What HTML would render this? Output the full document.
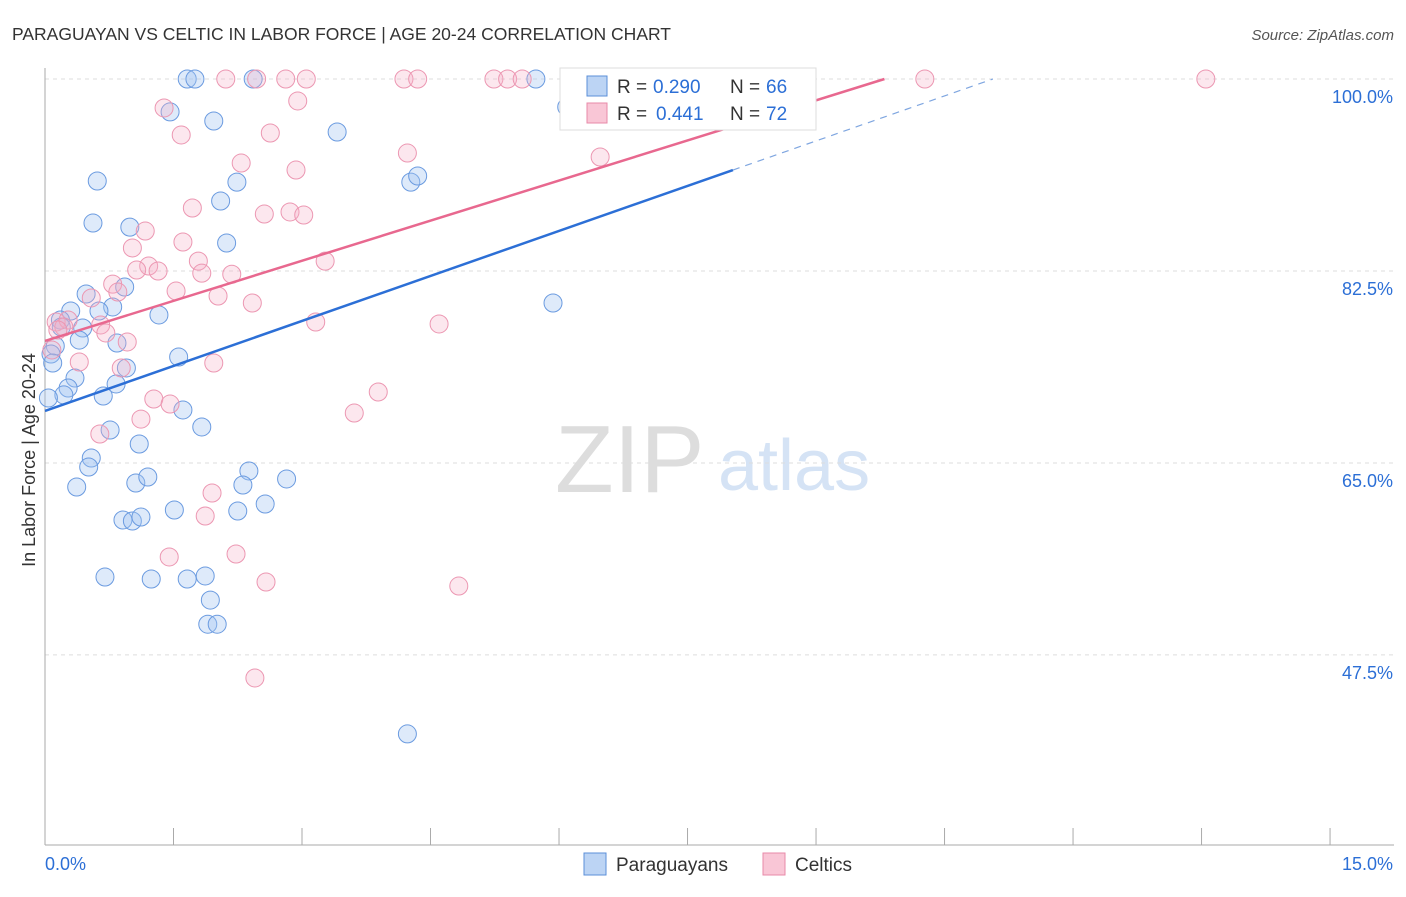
<!DOCTYPE html>
<html><head><meta charset="utf-8"><style>
body{margin:0;background:#fff;font-family:"Liberation Sans",sans-serif;}
svg text{font-family:"Liberation Sans",sans-serif;}
</style></head><body>
<svg id="chart" width="1406" height="892">
<text x="12" y="40" font-size="17.5" fill="#333">PARAGUAYAN VS CELTIC IN LABOR FORCE | AGE 20-24 CORRELATION CHART</text>
<text x="1394" y="40" font-size="15" fill="#555" font-style="italic" text-anchor="end">Source: ZipAtlas.com</text>
<text x="35" y="460" font-size="18" fill="#333" transform="rotate(-90 35 460)" text-anchor="middle">In Labor Force | Age 20-24</text>
<text x="555" y="492" font-size="96" fill="#ddd" font-family="Liberation Serif">ZIP</text>
<text x="718" y="490" font-size="72" fill="#d5e3f5">atlas</text>
<g id="grid"></g><g id="marks"></g><g id="lines"></g>
<g>
<rect x="560" y="68" width="256" height="62" fill="#fff" stroke="#ddd"/>
<rect x="587" y="76" width="20" height="20" fill="#bcd4f4" stroke="#5b8fd8"/>
<rect x="587" y="103" width="20" height="20" fill="#f9c6d6" stroke="#e88aa8"/>
<text x="617" y="93" font-size="19" fill="#333">R =</text>
<text x="653" y="93" font-size="19" fill="#2c6fd6">0.290</text>
<text x="730" y="93" font-size="19" fill="#333">N =</text>
<text x="766" y="93" font-size="19" fill="#2c6fd6">66</text>
<text x="617" y="120" font-size="19" fill="#333">R =</text>
<text x="656" y="120" font-size="19" fill="#2c6fd6">0.441</text>
<text x="730" y="120" font-size="19" fill="#333">N =</text>
<text x="766" y="120" font-size="19" fill="#2c6fd6">72</text>
</g>
<g>
<rect x="584" y="853" width="22" height="22" fill="#bcd4f4" stroke="#5b8fd8"/>
<text x="616" y="871" font-size="19" fill="#333">Paraguayans</text>
<rect x="763" y="853" width="22" height="22" fill="#f9c6d6" stroke="#e88aa8"/>
<text x="795" y="871" font-size="19" fill="#333">Celtics</text>
</g>
</svg>
<script>
const blueX=[1.66,1.75,2.43,5.73,6.90,6.09,1.46,1.97,3.41,0.61,2.24,4.27,4.35,2.05,0.56,0.99,2.12,0.93,0.48,5.93,0.30,0.79,0.63,1.33,0.18,0.19,0.44,0.40,0.84,0.12,0.07,0.09,1.56,0.95,0.35,0.83,0.27,0.22,0.68,0.04,1.61,0.76,1.83,1.10,0.54,0.51,0.37,1.06,1.20,2.38,2.31,2.82,2.57,1.51,2.25,0.91,1.02,1.12,0.70,1.24,1.66,1.87,1.93,1.90,2.01,4.23];
const blueY=[100,100,100,100,100,97.45,97.0,96.17,95.17,90.7,90.6,90.6,91.16,88.88,86.87,86.5,85.05,81.04,80.4,79.58,78.85,79.22,78.85,78.49,78.03,77.39,77.3,76.2,75.93,75.66,74.93,74.11,74.66,73.66,72.74,72.2,71.83,71.2,71.1,70.92,69.83,68.0,68.28,66.73,65.45,64.63,62.81,63.17,63.72,64.27,62.99,63.54,61.26,60.71,60.62,59.8,59.71,60.07,54.6,54.42,54.42,54.7,52.5,50.3,50.3,40.3];
const pinkX=[1.39,1.59,2.63,2.95,2.47,2.11,2.81,3.05,4.19,4.35,5.24,5.40,5.57,10.27,13.55,4.23,6.48,2.29,2.93,1.72,2.56,2.86,3.02,1.17,1.02,1.61,1.79,1.21,1.07,1.32,1.83,2.18,3.27,0.79,1.53,0.85,0.54,2.02,2.42,0.13,0.27,0.22,0.15,0.65,0.71,0.96,0.40,3.16,4.60,0.08,1.97,0.89,3.89,1.27,1.46,3.61,1.12,0.64,1.95,1.87,1.45,2.23,2.58,4.83,2.45];
const pinkY=[97.36,94.9,95.08,98.0,100,100,100,100,100,100,100,100,100,100,100,93.25,92.89,92.34,91.7,88.24,87.69,87.88,87.6,86.14,84.6,85.14,83.4,82.95,82.59,82.5,82.3,82.2,83.4,81.3,80.67,80.58,80.04,80.22,79.58,77.85,78.03,77.39,77.12,77.58,76.85,76.03,74.2,77.85,77.67,75.3,74.11,73.66,71.47,70.83,70.37,69.55,69.0,67.64,62.26,60.16,56.43,56.7,54.15,53.78,45.4];
const blueTrend=[69.74,2.735];
const pinkTrend=[76.12,2.437];
const yTicks=[100,82.5,65,47.5];
const xTickVals=[0,1.5,3,4.5,6,7.5,9,10.5,12,13.5,15];
const NS='http://www.w3.org/2000/svg';
const X=v=>45+v*85.67, Y=v=>79+(100-v)*10.97;
function mk(tag,attrs,parent){const e=document.createElementNS(NS,tag);for(const k in attrs)e.setAttribute(k,attrs[k]);parent.appendChild(e);return e;}
const grid=document.getElementById('grid'),marks=document.getElementById('marks'),lines=document.getElementById('lines');
yTicks.forEach(v=>{
 const l=mk('line',{x1:45,x2:1394,y1:Y(v),y2:Y(v),stroke:'#ddd','stroke-dasharray':'4,4'},grid);
 
 
 const t=mk('text',{x:1393,y:Y(v)+24,'font-size':18,fill:'#2c6fd6','text-anchor':'end'},grid);
 t.textContent=v.toFixed(1)+'%';
 
 
});
const ax=mk('line',{x1:45,x2:45,y1:68,y2:845,stroke:'#aaa'},grid);


const bx=mk('line',{x1:45,x2:1394,y1:845,y2:845,stroke:'#aaa'},grid);


xTickVals.forEach(v=>{
 const t=mk('line',{x1:X(v),x2:X(v),y1:828,y2:845,stroke:'#aaa'},grid);
 
 
});
[[0,'start','0.0%'],[15,'end','15.0%']].forEach(([v,a,s])=>{
 const t=mk('text',{x:X(v)+(a==='end'?63:0),y:870,'font-size':18,fill:'#2c6fd6','text-anchor':a},grid);
 t.textContent=s;
 
 
});
blueX.forEach((x,i)=>{
 const c=mk('circle',{cx:X(x),cy:Y(blueY[i]),r:9,fill:'rgba(160,195,240,0.35)',stroke:'#6b9be0','stroke-width':1},marks);
 
 
});
pinkX.forEach((x,i)=>{
 const c=mk('circle',{cx:X(x),cy:Y(pinkY[i]),r:9,fill:'rgba(245,175,200,0.3)',stroke:'#ec97b2','stroke-width':1},marks);
 
 
});
const bEnd=8.03, bFull=(100-blueTrend[0])/blueTrend[1];
const bl=mk('line',{x1:X(0),y1:Y(blueTrend[0]),x2:X(bEnd),y2:Y(blueTrend[0]+blueTrend[1]*bEnd),stroke:'#2c6fd6','stroke-width':2.5},lines);


const bd=mk('line',{x1:X(bEnd),y1:Y(blueTrend[0]+blueTrend[1]*bEnd),x2:X(bFull),y2:Y(100),stroke:'#7fa6e0','stroke-width':1.2,'stroke-dasharray':'7,6'},lines);


const pFull=(100-pinkTrend[0])/pinkTrend[1];
const pl=mk('line',{x1:X(0),y1:Y(pinkTrend[0]),x2:X(pFull),y2:Y(100),stroke:'#e8688f','stroke-width':2.5},lines);


</script>
</body></html>
